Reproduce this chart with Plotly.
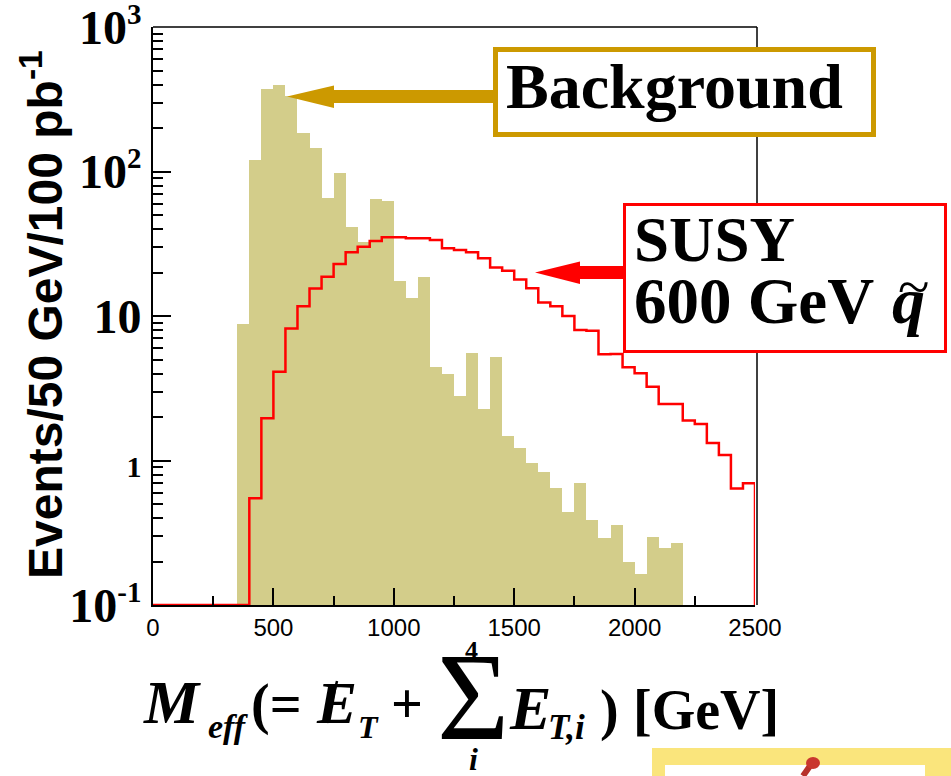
import plotly.graph_objects as go

# ---------------- data ----------------
bin_low_edges = [0, 50, 100, 150, 200, 250, 300, 350, 400, 450,
                 500, 550, 600, 650, 700, 750, 800, 850, 900, 950,
                 1000, 1050, 1100, 1150, 1200, 1250, 1300, 1350, 1400, 1450,
                 1500, 1550, 1600, 1650, 1700, 1750, 1800, 1850, 1900, 1950,
                 2000, 2050, 2100, 2150, 2200, 2250, 2300, 2350, 2400, 2450]
bin_width = 50
x_max = 2500

background = [0, 0, 0, 0, 0, 0, 0, 8.8, 120, 372,
              399, 333, 186, 145, 66, 97, 41.5, 32.4, 64.2, 63,
              17.5, 13.4, 18.5, 4.42, 3.97, 2.78, 5.52, 2.27, 5.18, 1.48,
              1.23, 0.957, 0.83, 0.65, 0.44, 0.70, 0.39, 0.29, 0.36, 0.20,
              0.164, 0.295, 0.247, 0.267, 0, 0, 0, 0, 0, 0]

susy_600 = [0, 0, 0, 0, 0, 0, 0, 0, 0.547, 1.96,
            4.12, 8.2, 11.7, 15.5, 18.7, 22.9, 27.6, 30.2, 33.0, 35.1,
            35.1, 34.6, 34.6, 33.6, 29.4, 28.6, 27.6, 25.1, 21.7, 20.6,
            17.9, 15.6, 12.4, 11.7, 10.0, 8.0, 7.9, 5.43, 5.45, 4.42,
            4.01, 3.24, 2.46, 2.46, 1.89, 1.79, 1.32, 1.09, 0.64, 0.695]

SUP = "<sup><span style='font-size:29px'>{}</span></sup>"
y_major_vals = [0.1, 1, 10, 100, 1000]
y_major_text = ["10" + SUP.format("-1"), "<span style='font-size:30px'>1</span>", "10",
                "10" + SUP.format("2"), "10" + SUP.format("3")]
x_major_vals = [0, 500, 1000, 1500, 2000, 2500]
x_major_text = ["0", "500", "1000", "1500", "2000", "2500"]
y_floor = 0.1

# ---------------- geometry helpers ----------------
W, H = 951, 776
L, R, T, B = 153, 755, 27, 605


def px(xp):
    return (xp - L) / (R - L)


def py(yp):
    return (B - yp) / (B - T)


KHAKI = "#D3CD8A"
GOLD = "#CC9900"
RED = "#FF0000"

fig = go.Figure()

# background histogram (filled)
fig.add_trace(go.Bar(
    x=[e + bin_width / 2 for e in bin_low_edges],
    y=[v if v > 0 else None for v in background],
    width=bin_width,
    marker=dict(color=KHAKI, line=dict(width=0)),
    showlegend=False, hoverinfo="skip"))

# signal histogram (step line)
sx = bin_low_edges + [x_max, x_max]
sy = [v if v > 0 else y_floor for v in susy_600]
sy = sy + [sy[-1], y_floor]
fig.add_trace(go.Scatter(
    x=sx, y=sy, mode="lines", line=dict(shape="hv", color=RED, width=2.5),
    showlegend=False, hoverinfo="skip"))

minor_y = [m * 10 ** k for k in (-1, 0, 1, 2) for m in range(2, 10)]

fig.update_layout(
    width=W, height=H,
    margin=dict(l=L, r=W - R, t=T, b=H - B, autoexpand=False),
    paper_bgcolor="white", plot_bgcolor="white",
    bargap=0,
    xaxis=dict(range=[0, x_max], showgrid=False, zeroline=False,
               automargin=False,
               showline=True, linecolor="black", linewidth=2,
               ticks="inside", ticklen=17, tickwidth=2, tickcolor="black",
               tickvals=x_major_vals, ticktext=x_major_text,
               tickfont=dict(family="Liberation Sans", size=24, color="black"),
               minor=dict(dtick=250, tick0=0, ticks="inside", ticklen=9,
                          tickwidth=2, tickcolor="black", showgrid=False),
               layer="above traces"),
    yaxis=dict(type="log", range=[-1, 3.0004], showgrid=False, zeroline=False,
               automargin=False,
               showline=True, linecolor="black", linewidth=2,
               ticks="inside", ticklen=18, tickwidth=2, tickcolor="black",
               tickvals=y_major_vals, ticktext=y_major_text,
               ticklabeloverflow="allow",
               tickfont=dict(family="Liberation Serif", size=48, color="black",
                             weight="bold"),
               minor=dict(tickmode="array", tickvals=minor_y, ticks="inside",
                          ticklen=10, tickwidth=2, tickcolor="black",
                          showgrid=False),
               layer="above traces"),
)

shapes = []
# top & right frame lines
shapes.append(dict(type="line", xref="paper", yref="paper", x0=0, x1=px(757),
                   y0=1, y1=1, line=dict(color="black", width=1.5)))
shapes.append(dict(type="line", xref="paper", yref="paper", x0=px(757), x1=px(757),
                   y0=0, y1=1, line=dict(color="black", width=1.5)))

# Background box + arrow
shapes.append(dict(type="rect", xref="paper", yref="paper",
                   x0=px(495.5), x1=px(873.5), y0=py(49.5), y1=py(134.5),
                   fillcolor="white", line=dict(color=GOLD, width=5)))
shapes.append(dict(type="rect", xref="paper", yref="paper",
                   x0=px(330), x1=px(493), y0=py(90), y1=py(103),
                   fillcolor=GOLD, line=dict(width=0)))
shapes.append(dict(type="path", xref="paper", yref="paper",
                   path=f"M {px(287)} {py(96.5)} L {px(334)} {py(85.5)} L {px(334)} {py(108)} Z",
                   fillcolor=GOLD, line=dict(width=0)))

# SUSY box + arrow
shapes.append(dict(type="rect", xref="paper", yref="paper",
                   x0=px(624.5), x1=px(945.5), y0=py(204.5), y1=py(351.5),
                   fillcolor="white", line=dict(color=RED, width=3)))
shapes.append(dict(type="rect", xref="paper", yref="paper",
                   x0=px(575), x1=px(624), y0=py(266), y1=py(279),
                   fillcolor=RED, line=dict(width=0)))
shapes.append(dict(type="path", xref="paper", yref="paper",
                   path=f"M {px(535)} {py(272.5)} L {px(580)} {py(261.5)} L {px(580)} {py(284)} Z",
                   fillcolor=RED, line=dict(width=0)))

# slash through missing E_T
shapes.append(dict(type="line", xref="paper", yref="paper",
                   x0=px(327), y0=py(723), x1=px(337), y1=py(681),
                   line=dict(color="black", width=2.5)))

# decoration bottom-right (sticky note)
shapes.append(dict(type="rect", xref="paper", yref="paper",
                   x0=px(652), x1=px(951), y0=py(748), y1=py(776),
                   fillcolor="#FAE57C", line=dict(width=0)))
shapes.append(dict(type="rect", xref="paper", yref="paper",
                   x0=px(665), x1=px(925), y0=py(765), y1=py(780),
                   fillcolor="white", line=dict(width=0)))
shapes.append(dict(type="line", xref="paper", yref="paper",
                   x0=px(812), y0=py(763), x1=px(803), y1=py(776),
                   line=dict(color="#B8312B", width=6)))
shapes.append(dict(type="circle", xref="paper", yref="paper",
                   x0=px(806), x1=px(820), y0=py(757), y1=py(769),
                   fillcolor="#C9372F", line=dict(width=0)))

fig.update_layout(shapes=shapes)

ann = []


def txt(text, xp, yp, size, family="Liberation Serif", xanchor="left", angle=0,
        weight="bold", italic=False):
    t = f"<i>{text}</i>" if italic else text
    ann.append(dict(text=t, x=px(xp), y=py(yp), xref="paper", yref="paper",
                    xanchor=xanchor, yanchor="middle", showarrow=False,
                    textangle=angle,
                    font=dict(family=family, size=size, color="black",
                              weight=weight)))


def base(b, s):
    return b - 0.3375 * s


# y-axis title
txt("Events/50 GeV/100 pb<sup>-1</sup>", 42, 315, 48, family="Liberation Sans",
    xanchor="center", angle=-90)

# annotation box texts
txt("Background", 504, base(108, 64), 64)
txt("SUSY", 632, base(261, 63), 63)
txt("600 GeV", 632, base(323, 65), 65)
txt("q", 890, base(323, 66), 66, italic=True)
txt("~", 914, 286, 58, xanchor="center", weight="normal")

# x-axis title pieces
bl, br = 723, 729
txt("M", 141, base(bl, 62), 62, italic=True)
txt("eff", 206, base(738, 34), 34, italic=True)
txt("(=", 249, base(bl, 56), 56)
txt("E", 314, base(bl, 60), 60, italic=True)
txt("T", 356, base(738, 32), 32, italic=True)
txt("+", 389, base(bl, 56), 56)
txt("Σ", 473, 697, 124, xanchor="center", weight="normal")
txt("4", 471, 650, 26, xanchor="center")
txt("i", 473, 759, 32, xanchor="center", italic=True)
txt("E", 507, base(br, 62), 62, italic=True)
txt("T,i", 546, base(739, 35), 35, italic=True)
txt(")", 598, base(br, 56), 56)
txt("[GeV]", 631, base(br, 56), 56)

fig.update_layout(annotations=ann)

fig.write_html("out.html")
